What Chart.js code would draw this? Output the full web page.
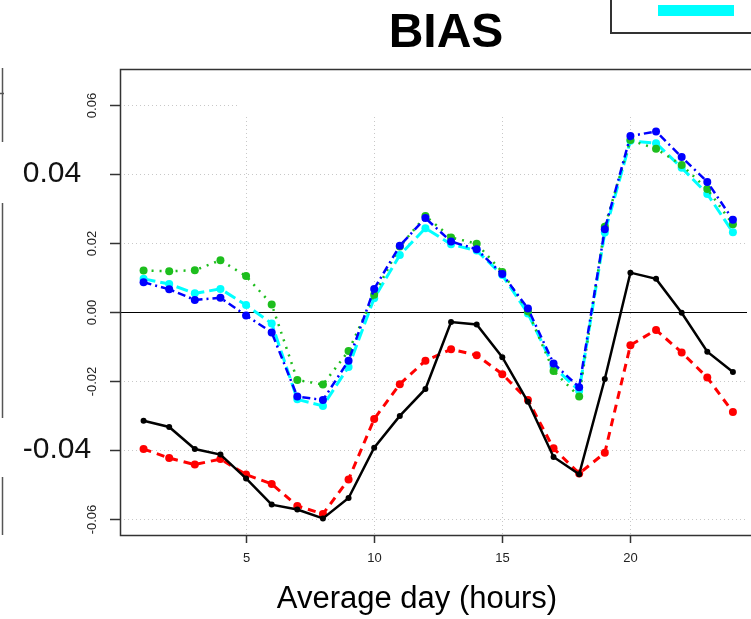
<!DOCTYPE html>
<html>
<head>
<meta charset="utf-8">
<script src="https://cdn.jsdelivr.net/npm/chart.js@4.4.1/dist/chart.umd.min.js"></script>
<style>
    body { margin: 0; background: #fff; }
    #wrap { width: 751px; height: 619px; }
</style>
</head>
<body>
<div id="wrap"><canvas id="biasChart" width="751" height="619"></canvas></div>
<script>
const hours = [1, 2, 3, 4, 5, 6, 7, 8, 9, 10, 11, 12, 13, 14, 15, 16, 17, 18, 19, 20, 21, 22, 23, 24];

const biasBlack = [-0.0315, -0.0333, -0.0397, -0.0413, -0.0482, -0.0558, -0.0572, -0.0598, -0.0539, -0.0393, -0.0301, -0.0223,
                   -0.0029, -0.0036, -0.0131, -0.0260, -0.0420, -0.0470, -0.0194, 0.0114, 0.0096, -0.0002, -0.0115, -0.0174];
const biasRed = [-0.0397, -0.0423, -0.0442, -0.0426, -0.0471, -0.0498, -0.0562, -0.0585, -0.0485, -0.0310, -0.0209, -0.0141,
                 -0.0108, -0.0125, -0.0180, -0.0255, -0.0395, -0.0468, -0.0408, -0.0096, -0.0052, -0.0117, -0.0190, -0.0290];
const biasGreen = [0.0120, 0.0118, 0.0121, 0.0150, 0.0104, 0.0022, -0.0197, -0.0210, -0.0113, 0.0050, 0.0190, 0.0278,
                   0.0216, 0.0198, 0.0116, 0.0002, -0.0171, -0.0245, 0.0247, 0.0498, 0.0473, 0.0426, 0.0356, 0.0254];
const biasBlue = [0.0086, 0.0066, 0.0035, 0.0041, -0.0010, -0.0059, -0.0245, -0.0255, -0.0141, 0.0067, 0.0192, 0.0272,
                  0.0204, 0.0182, 0.0110, 0.0010, -0.0149, -0.0218, 0.0240, 0.0510, 0.0523, 0.0449, 0.0377, 0.0267];
const biasCyan = [0.0096, 0.0081, 0.0054, 0.0067, 0.0020, -0.0033, -0.0253, -0.0272, -0.0159, 0.0040, 0.0165, 0.0243,
                  0.0196, 0.0178, 0.0107, -0.0004, -0.0158, -0.0228, 0.0230, 0.0496, 0.0489, 0.0418, 0.0342, 0.0231];

const xTicks = [5, 10, 15, 20];
const xTickLabels = ['5', '10', '15', '20'];
const yTicks = [-0.06, -0.04, -0.02, 0, 0.02, 0.04, 0.06];
const yTickLabels = ['-0.06', '', '-0.02', '0.00', '0.02', '', '0.06'];
const sideLabels = ['0.04', '-0.04'];

const chartTitle = 'BIAS';
const xTitle = 'Average day (hours)';

const FONT = '"Liberation Sans", Arial, sans-serif';

const toPoints = values => values.map((v, i) => ({ x: hours[i], y: v }));

function series(values, color, dash, width, radius) {
    return {
        data: toPoints(values),
        borderColor: color,
        backgroundColor: color,
        borderWidth: width,
        borderDash: dash,
        pointRadius: radius,
        pointBorderWidth: 0,
        pointHoverRadius: radius,
        tension: 0,
        fill: false
    };
}

const framePlugin = {
    id: 'frame',
    beforeDatasetsDraw(chart) {
        const { ctx, chartArea: area, scales: { x, y } } = chart;
        ctx.save();

        // dotted grid
        ctx.strokeStyle = '#c8c8c8';
        ctx.lineWidth = 1;
        ctx.setLineDash([1, 3]);
        xTicks.forEach(v => {
            const px = Math.round(x.getPixelForValue(v)) + 0.5;
            ctx.beginPath();
            ctx.moveTo(px, area.top);
            ctx.lineTo(px, area.bottom);
            ctx.stroke();
        });
        yTicks.forEach(v => {
            if (v === 0) return;
            const py = Math.round(y.getPixelForValue(v)) + 0.5;
            ctx.beginPath();
            ctx.moveTo(area.left, py);
            ctx.lineTo(area.right, py);
            ctx.stroke();
        });
        ctx.setLineDash([]);

        // blank legend area hides the top of the grid
        ctx.fillStyle = '#fff';
        ctx.fillRect(237, area.top + 1, area.right - 237, 45);

        // zero line
        const py0 = Math.round(y.getPixelForValue(0)) + 0.5;
        ctx.strokeStyle = '#000';
        ctx.lineWidth = 1.2;
        ctx.beginPath();
        ctx.moveTo(area.left, py0);
        ctx.lineTo(area.right, py0);
        ctx.stroke();
        ctx.restore();
    },
    afterDraw(chart) {
        const { ctx, chartArea: area, scales: { x, y } } = chart;
        ctx.save();

        // box, right side cut off
        ctx.strokeStyle = '#333';
        ctx.lineWidth = 1.5;
        ctx.strokeRect(area.left + 0.5, area.top + 0.5, area.width + 20, area.height);

        // x ticks
        ctx.fillStyle = '#222';
        ctx.font = '13px ' + FONT;
        ctx.textAlign = 'center';
        ctx.textBaseline = 'middle';
        xTicks.forEach((v, i) => {
            const px = Math.round(x.getPixelForValue(v)) + 0.5;
            ctx.beginPath();
            ctx.moveTo(px, area.bottom);
            ctx.lineTo(px, area.bottom + 8);
            ctx.stroke();
            ctx.fillText(xTickLabels[i], px, area.bottom + 23);
        });

        // y ticks, rotated labels
        yTicks.forEach((v, i) => {
            const py = Math.round(y.getPixelForValue(v)) + 0.5;
            ctx.beginPath();
            ctx.moveTo(area.left, py);
            ctx.lineTo(area.left - 10, py);
            ctx.stroke();
            if (!yTickLabels[i]) return;
            ctx.save();
            ctx.translate(area.left - 28, py);
            ctx.rotate(-Math.PI / 2);
            ctx.fillText(yTickLabels[i], 0, 0);
            ctx.restore();
        });

        // titles
        ctx.fillStyle = '#000';
        ctx.font = 'bold 48px ' + FONT;
        ctx.textBaseline = 'alphabetic';
        ctx.fillText(chartTitle, 446, 47);
        ctx.font = '31px ' + FONT;
        ctx.fillText(xTitle, 417, 608);

        // leftovers of the neighbouring panel
        ctx.fillStyle = '#111';
        ctx.font = '30px ' + FONT;
        ctx.textBaseline = 'middle';
        ctx.fillText(sideLabels[0], 52, y.getPixelForValue(0.04));
        ctx.fillText(sideLabels[1], 57, y.getPixelForValue(-0.04));
        ctx.strokeStyle = '#555';
        ctx.lineWidth = 1.5;
        [[68, 142], [203, 418], [477, 535]].forEach(([a, b]) => {
            ctx.beginPath();
            ctx.moveTo(2.5, a);
            ctx.lineTo(2.5, b);
            ctx.stroke();
        });
        ctx.beginPath();
        ctx.moveTo(0, 93.5);
        ctx.lineTo(4, 93.5);
        ctx.stroke();

        // legend, mostly outside the picture
        ctx.strokeStyle = '#333';
        ctx.lineWidth = 2;
        ctx.strokeRect(611, -10, 160, 43);
        ctx.fillStyle = '#00ffff';
        ctx.fillRect(658, 5, 76, 11);
        ctx.restore();
    }
};

new Chart(document.getElementById('biasChart').getContext('2d'), {
    type: 'line',
    data: {
        datasets: [
            series(biasBlack, '#000000', [], 2.5, 3),
            series(biasRed, '#ff0000', [8, 6], 3, 4),
            series(biasBlue, '#0000ff', [8, 4, 2, 4], 2.5, 4),
            series(biasGreen, '#1dbe1d', [2, 6], 2.5, 4),
            series(biasCyan, '#00ffff', [12, 5], 3, 4)
        ]
    },
    options: {
        responsive: false,
        animation: false,
        layout: { padding: { left: 120, top: 69, right: 0, bottom: 84 } },
        plugins: {
            legend: { display: false },
            tooltip: { enabled: false },
            title: { display: false }
        },
        scales: {
            x: { type: 'linear', min: 0.08, max: 24.55, display: false },
            y: { type: 'linear', min: -0.0646, max: 0.0704, display: false }
        }
    },
    plugins: [framePlugin]
});
</script>
</body>
</html>
